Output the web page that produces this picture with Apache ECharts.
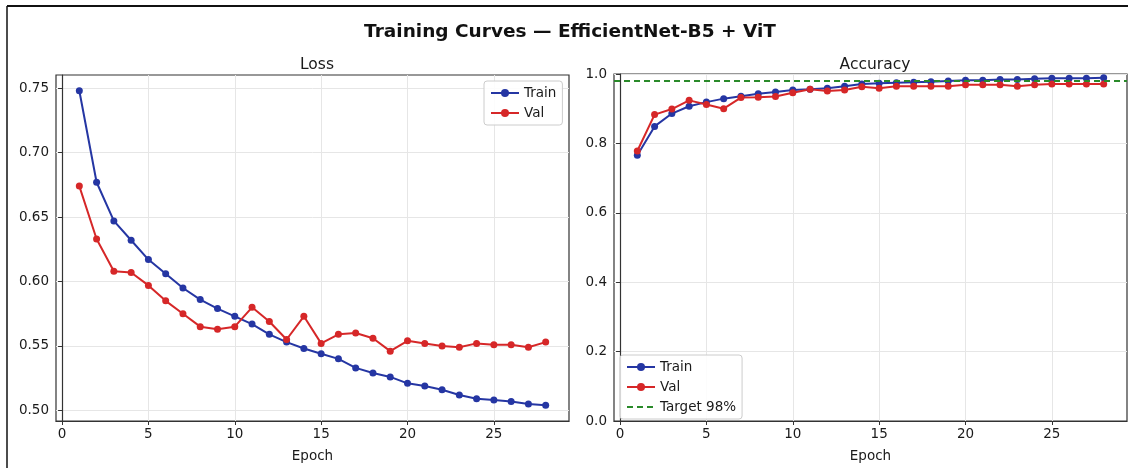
<!DOCTYPE html>
<html>
<head>
<meta charset="utf-8">
<title>Training Curves</title>
<script src="https://cdn.jsdelivr.net/npm/echarts@6/dist/echarts.min.js"></script>
<style>
  html, body { margin: 0; padding: 0; background: #fff; }
  #chart { width: 1128px; height: 468px; }
</style>
</head>
<body>
<div id="chart"></div>
<script>
// epochs 1..28
const epochs = [1, 2, 3, 4, 5, 6, 7, 8, 9, 10, 11, 12, 13, 14, 15, 16, 17, 18, 19, 20, 21, 22, 23, 24, 25, 26, 27, 28];

const trainLoss = [0.748, 0.677, 0.647, 0.632, 0.617, 0.606, 0.595, 0.586, 0.579, 0.573, 0.567, 0.559, 0.553, 0.548,
  0.544, 0.540, 0.533, 0.529, 0.526, 0.521, 0.519, 0.516, 0.512, 0.509, 0.508, 0.507, 0.505, 0.504];
const valLoss = [0.674, 0.633, 0.608, 0.607, 0.597, 0.585, 0.575, 0.565, 0.563, 0.565, 0.580, 0.569, 0.555, 0.573,
  0.552, 0.559, 0.560, 0.556, 0.546, 0.554, 0.552, 0.550, 0.549, 0.552, 0.551, 0.551, 0.549, 0.553];

const trainAcc = [0.766, 0.849, 0.886, 0.907, 0.919, 0.929, 0.936, 0.943, 0.948, 0.954, 0.956, 0.959, 0.965, 0.971,
  0.973, 0.975, 0.976, 0.978, 0.980, 0.982, 0.982, 0.984, 0.984, 0.986, 0.988, 0.988, 0.988, 0.989];
const valAcc = [0.778, 0.883, 0.899, 0.924, 0.912, 0.900, 0.932, 0.933, 0.935, 0.946, 0.956, 0.951, 0.954, 0.963,
  0.959, 0.965, 0.965, 0.965, 0.965, 0.969, 0.969, 0.969, 0.965, 0.969, 0.971, 0.971, 0.971, 0.971];

const targetAcc = 0.98;

const epochTicks = [0, 5, 10, 15, 20, 25];
const lossTicks = [0.50, 0.55, 0.60, 0.65, 0.70, 0.75];

const BLUE = '#2536a3';
const RED = '#d62728';
const GREEN = '#2a8a2a';
const FONT = 'DejaVu Sans';
const TXT = '#1a1a1a';

const pairs = (ys) => epochs.map((e, i) => [e, ys[i]]);

const xAxisBase = (gridIndex) => ({
  type: 'value',
  gridIndex,
  min: -0.35,
  max: 29.35,
  name: 'Epoch',
  nameLocation: 'middle',
  nameGap: 28,
  nameTextStyle: { fontFamily: FONT, fontSize: 13.5, color: TXT },
  axisLine: { show: true, onZero: false, lineStyle: { color: '#333', width: 1.2 } },
  axisTick: { show: true, length: 4, customValues: epochTicks, lineStyle: { color: '#333' } },
  axisLabel: { customValues: epochTicks, fontFamily: FONT, fontSize: 13.5, color: TXT, margin: 6 },
  splitLine: { show: true, lineStyle: { color: '#e6e6e6', width: 1 } },
});

const lineSeries = (name, data, color, xi) => ({
  name,
  type: 'line',
  xAxisIndex: xi,
  yAxisIndex: xi,
  data: pairs(data),
  symbol: 'circle',
  symbolSize: 7,
  showSymbol: true,
  itemStyle: { color },
  lineStyle: { color, width: 2 },
  emphasis: { disabled: true },
  animation: false,
});

const legendBase = {
  orient: 'vertical',
  backgroundColor: 'rgba(255,255,255,0.85)',
  borderColor: '#cccccc',
  borderWidth: 1,
  borderRadius: 3,
  padding: [4, 6, 4, 6],
  itemGap: 4,
  itemWidth: 28,
  itemHeight: 10,
  textStyle: { fontFamily: FONT, fontSize: 13.5, color: TXT, lineHeight: 16 },
};

const chart = echarts.init(document.getElementById('chart'), null, { renderer: 'canvas' });
chart.setOption({
  backgroundColor: '#fff',
  animation: false,
  title: [
    {
      text: 'Training Curves — EfficientNet-B5 + ViT',
      left: 565, top: 18, textAlign: 'center',
      textStyle: { fontFamily: FONT, fontSize: 18.5, fontWeight: 'bold', color: '#111' },
    },
    {
      text: 'Loss', left: 312, top: 52, textAlign: 'center',
      textStyle: { fontFamily: FONT, fontSize: 15.5, fontWeight: 'normal', color: TXT },
    },
    {
      text: 'Accuracy', left: 870, top: 52, textAlign: 'center',
      textStyle: { fontFamily: FONT, fontSize: 15.5, fontWeight: 'normal', color: TXT },
    },
  ],
  grid: [
    { left: 56, top: 75, width: 513, height: 348, show: true, borderColor: '#333', borderWidth: 1.2, backgroundColor: 'transparent' },
    { left: 614, top: 74, width: 513, height: 349, show: true, borderColor: '#333', borderWidth: 1.2, backgroundColor: 'transparent' },
  ],
  xAxis: [xAxisBase(0), xAxisBase(1)],
  yAxis: [
    {
      type: 'value', gridIndex: 0, min: 0.4918, max: 0.7602,
      axisLine: { show: true, lineStyle: { color: '#333', width: 1.2 } },
      axisTick: { show: true, length: 4, customValues: lossTicks, lineStyle: { color: '#333' } },
      axisLabel: {
        customValues: lossTicks, fontFamily: FONT, fontSize: 13.5, color: TXT, margin: 7,
        formatter: (v) => v.toFixed(2),
      },
      splitLine: { show: true, lineStyle: { color: '#e6e6e6', width: 1 } },
    },
    {
      type: 'value', gridIndex: 1, min: 0, max: 1, interval: 0.2,
      axisLine: { show: true, lineStyle: { color: '#333', width: 1.2 } },
      axisTick: { show: true, length: 4, lineStyle: { color: '#333' } },
      axisLabel: {
        fontFamily: FONT, fontSize: 13.5, color: TXT, margin: 7,
        formatter: (v) => v.toFixed(1),
      },
      splitLine: { show: true, lineStyle: { color: '#e6e6e6', width: 1 } },
    },
  ],
  legend: [
    Object.assign({}, legendBase, { left: 484, top: 81, data: ['Train', 'Val'] }),
    Object.assign({}, legendBase, {
      left: 620, top: 355,
      data: ['Train', 'Val', { name: 'Target 98%', itemStyle: { opacity: 0 } }],
    }),
  ],
  series: [
    lineSeries('Train', trainLoss, BLUE, 0),
    lineSeries('Val', valLoss, RED, 0),
    lineSeries('Train', trainAcc, BLUE, 1),
    lineSeries('Val', valAcc, RED, 1),
    {
      name: 'Target 98%',
      type: 'line',
      xAxisIndex: 1,
      yAxisIndex: 1,
      data: [],
      symbol: 'none',
      itemStyle: { color: GREEN },
      lineStyle: { color: GREEN, width: 1.8, type: [6, 4] },
      markLine: {
        silent: true,
        symbol: 'none',
        label: { show: false },
        lineStyle: { color: GREEN, width: 1.8, type: [6, 4] },
        data: [{ yAxis: targetAcc }],
      },
      z: 1,
    },
  ],
  graphic: [
    { type: 'line', shape: { x1: 7, y1: 6, x2: 1128, y2: 6 }, style: { stroke: '#111', lineWidth: 2 } },
    { type: 'line', shape: { x1: 7, y1: 6, x2: 7, y2: 468 }, style: { stroke: '#111', lineWidth: 1.5 } },
  ],
});
</script>
</body>
</html>
